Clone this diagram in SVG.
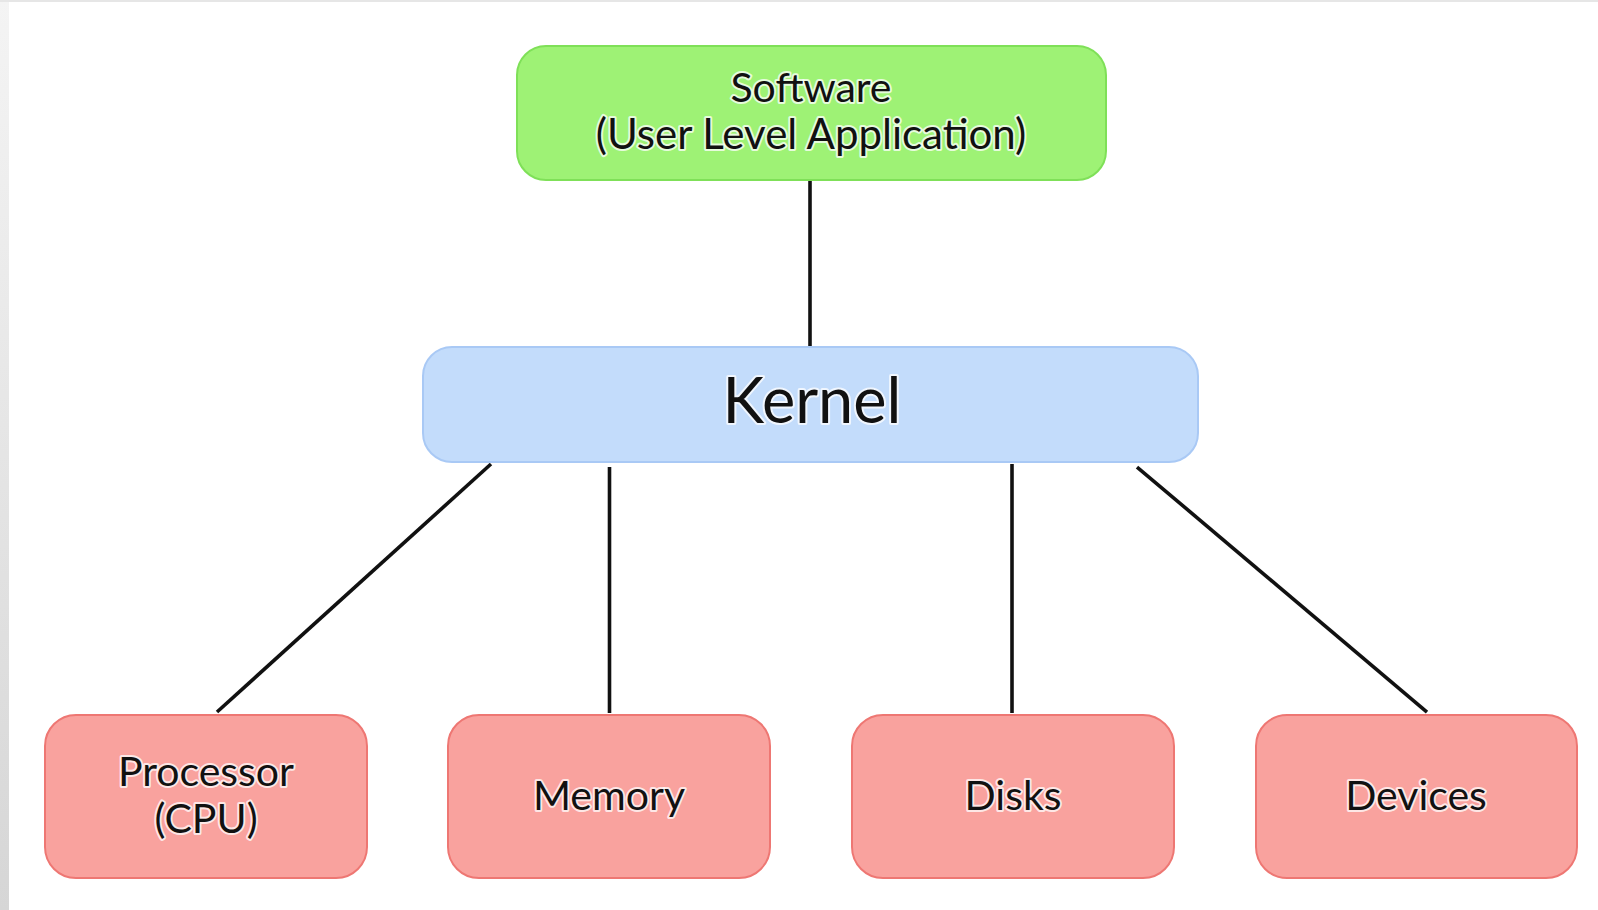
<svg xmlns="http://www.w3.org/2000/svg" width="1598" height="910" viewBox="0 0 1598 910">
<defs>
<linearGradient id="edge" x1="0" y1="0" x2="0" y2="1">
<stop offset="0" stop-color="#f4f4f4"/>
<stop offset="1" stop-color="#d6d6d6"/>
</linearGradient>
<style>
.t{font-family:Lato,"Noto Sans","Liberation Sans",sans-serif;fill:#111;text-anchor:middle;paint-order:stroke;stroke:#fff;stroke-width:4;stroke-opacity:0.75;stroke-linejoin:round}
.s{font-size:41px}
.green{fill:#9ef275;stroke:#7fe058;stroke-width:2}
.blue{fill:#c3dcfb;stroke:#a9c9f5;stroke-width:2}
.red{fill:#f9a29e;stroke:#ee7773;stroke-width:2}
.c{stroke:#111;stroke-width:3.6;fill:none}
</style>
</defs>
<rect width="1598" height="910" fill="#fff"/>
<rect x="0" y="0" width="9" height="910" fill="url(#edge)"/>
<rect x="0" y="0" width="1598" height="2" fill="#e6e6e6"/>
<g id="connectors">
<line class="c" x1="810" y1="181" x2="810" y2="346"/>
<line class="c" x1="491" y1="464" x2="217" y2="712"/>
<line class="c" x1="609.5" y1="467" x2="609.5" y2="713"/>
<line class="c" x1="1012" y1="464" x2="1012" y2="713"/>
<line class="c" x1="1137" y1="467" x2="1427" y2="712"/>
</g>
<g id="software">
<rect class="green" x="517" y="46" width="589" height="134" rx="29"/>
<text class="t s" x="811" y="102" font-size="42">Software</text>
<text class="t s" x="811" y="149" style="font-size:42px">(User Level Application)</text>
</g>
<g id="kernel">
<rect class="blue" x="423" y="347" width="775" height="115" rx="29"/>
<text class="t" x="812" y="423" font-size="63">Kernel</text>
</g>
<g id="processor">
<rect class="red" x="45" y="715" width="322" height="163" rx="31"/>
<text class="t s" x="206" y="786">Processor</text>
<text class="t s" x="206" y="833">(CPU)</text>
</g>
<g id="memory">
<rect class="red" x="448" y="715" width="322" height="163" rx="31"/>
<text class="t s" x="609" y="810">Memory</text>
</g>
<g id="disks">
<rect class="red" x="852" y="715" width="322" height="163" rx="31"/>
<text class="t s" x="1013" y="810">Disks</text>
</g>
<g id="devices">
<rect class="red" x="1256" y="715" width="321" height="163" rx="31"/>
<text class="t s" x="1416" y="810">Devices</text>
</g>
</svg>
